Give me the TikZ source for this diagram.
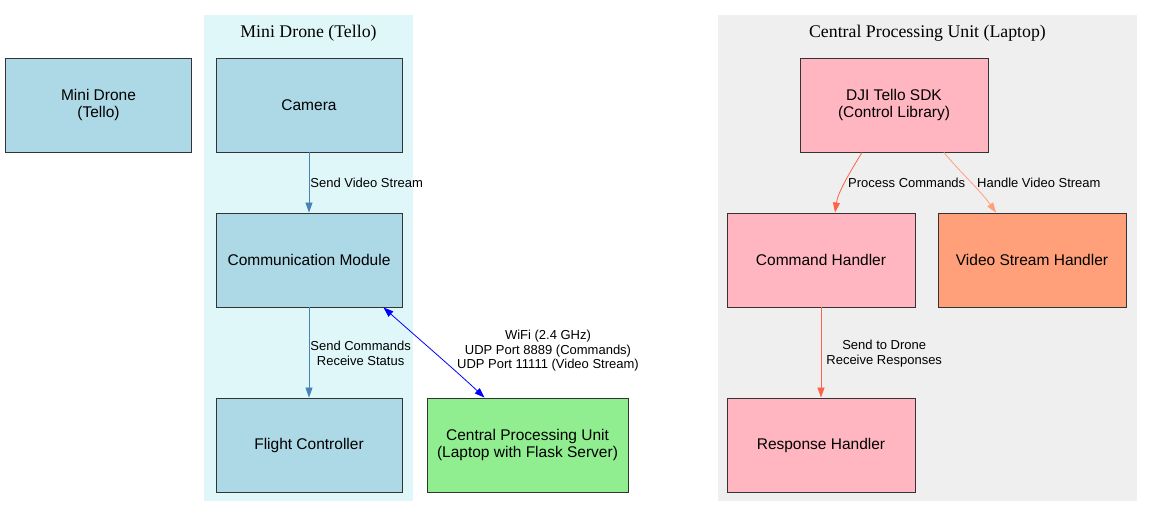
\documentclass[tikz,border=0pt]{standalone}
\usepackage{fontspec}
\setmainfont{Liberation Sans}
\newfontfamily\titlefont{Liberation Serif}
\usetikzlibrary{arrows.meta,positioning}
\definecolor{lblue}{HTML}{ADD8E6}
\definecolor{clcyan}{HTML}{E0F7FA}
\definecolor{clgray}{HTML}{EFEFEF}
\definecolor{lgreen}{HTML}{90EE90}
\definecolor{lpink}{HTML}{FFB6C1}
\definecolor{lsalmon}{HTML}{FFA07A}
\definecolor{steelb}{HTML}{4682B4}
\definecolor{tomatoc}{HTML}{FF6347}
\definecolor{edgegray}{HTML}{333333}
\begin{document}
\begin{tikzpicture}[x=1pt,y=-1pt,
  box/.style={draw=edgegray,line width=0.9pt,minimum width=186pt,minimum height=94pt,
    font=\fontsize{15.5}{17.5}\selectfont,align=center,inner sep=0pt},
  elabel/.style={font=\fontsize{13}{14.5}\selectfont,align=center,inner sep=0pt,text=black},
  tip/.style={-{Triangle[length=10pt,width=7pt]}},
  ctitle/.style={font=\titlefont\fontsize{17.8}{20}\selectfont,inner sep=0pt}]
\useasboundingbox (0,0) rectangle (1152,517);
% clusters
\fill[clcyan] (204,15) rectangle (413,501);
\node[ctitle] (t1) at (308.5,33) {Mini Drone (Tello)};
\fill[clgray] (718,15) rectangle (1137,501);
\node[ctitle] (t2) at (927.5,33) {Central Processing Unit (Laptop)};
% nodes
\node[box,fill=lblue] (drone) at (98.5,105) {Mini Drone\\(Tello)};
\node[box,fill=lblue] (cam) at (309,105) {Camera};
\node[box,fill=lblue] (comm) at (309,260) {Communication Module};
\node[box,fill=lblue] (fc) at (309,445) {Flight Controller};
\node[box,fill=lgreen,minimum width=201pt] (cpu) at (527.5,445) {Central Processing Unit\\(Laptop with Flask Server)};
\node[box,fill=lpink,minimum width=188pt] (sdk) at (894,105) {DJI Tello SDK\\(Control Library)};
\node[box,fill=lpink,minimum width=188pt] (cmd) at (821,260) {Command Handler};
\node[box,fill=lsalmon,minimum width=188pt] (vid) at (1032,260) {Video Stream Handler};
\node[box,fill=lpink,minimum width=188pt] (resp) at (821,445) {Response Handler};
% anchor points for curved connectors
\coordinate (ca) at ([xshift=-19pt]comm.south east);
\coordinate (cb) at ([xshift=-43pt]cpu.north);
\coordinate (s1) at ([xshift=-32pt]sdk.south);
\coordinate (c1) at ([xshift=14pt]cmd.north);
\coordinate (s2) at ([xshift=50pt]sdk.south);
\coordinate (v1) at ([xshift=-36pt]vid.north);
% edges
\draw[tip,steelb,line width=0.8pt] (cam) -- (comm)
  node[elabel,midway,right=1pt] {Send Video Stream};
\draw[tip,steelb,line width=0.8pt] (comm) -- (fc)
  node[elabel,midway,right=1pt,yshift=-1pt] {Send Commands\\Receive Status};
\draw[{Triangle[length=10pt,width=7pt]}-{Triangle[length=10pt,width=7pt]},blue,line width=0.8pt]
  (ca) .. controls (420,340) and (455,370) .. (cb);
\node[elabel] (wifi) at (548,351) {WiFi (2.4 GHz)\\UDP Port 8889 (Commands)\\UDP Port 11111 (Video Stream)};
\draw[tip,tomatoc,line width=0.8pt] (s1) .. controls (850,172) and (838,192) .. (c1);
\node[elabel,anchor=west] (lpc) at (848,183) {Process Commands};
\draw[tip,lsalmon,line width=0.8pt] (s2) .. controls (958,170) and (980,190) .. (v1);
\node[elabel,anchor=west] (lhv) at (977,183) {Handle Video Stream};
\draw[tip,tomatoc,line width=0.8pt] (cmd) -- (resp)
  node[elabel,midway,right=5pt,yshift=-1pt] {Send to Drone\\Receive Responses};
\end{tikzpicture}
\end{document}
